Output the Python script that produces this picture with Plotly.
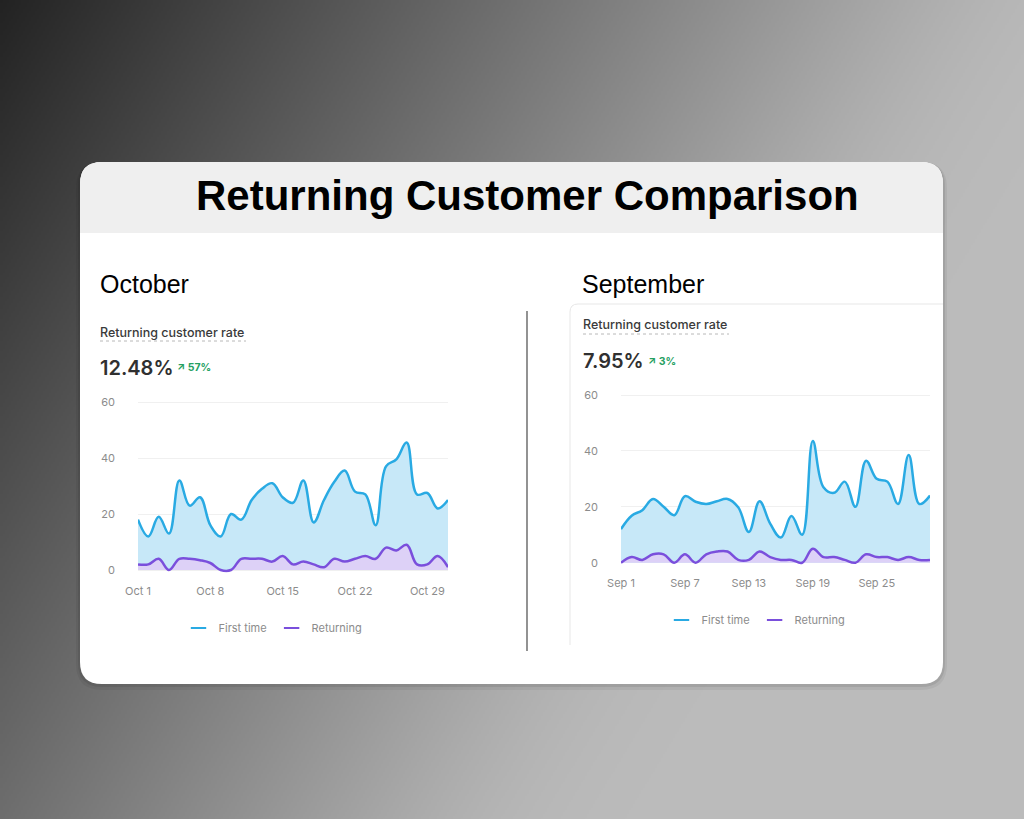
import base64
import struct
import zlib

import numpy as np
import plotly.graph_objects as go

# ---------------- data ----------------
oct_days = list(range(1, 32))
oct_first_time = [18, 12, 19, 13, 32, 23, 26, 16, 12, 20, 18, 25, 29, 31, 26, 24,
                  32, 17, 25, 31.5, 35.5, 28, 27, 16, 37, 39.5, 45.5, 27, 27.5, 22, 25]
oct_returning = [2, 2, 4, 0, 4, 4, 3.5, 2.5, 0, 0, 4, 4, 4, 3, 5, 2,
                 3, 2, 1, 4, 3, 4, 5, 4, 8, 7, 9, 2, 2, 5, 1]
oct_tick_vals = [1, 8, 15, 22, 29]
oct_tick_text = ["Oct 1", "Oct 8", "Oct 15", "Oct 22", "Oct 29"]

sep_days = list(range(1, 31))
sep_first_time = [12, 16.8, 18.8, 22.8, 20, 17, 23.8, 21.8, 21, 22, 22.8, 19.8, 11, 22, 14,
                  9, 16.7, 10, 43.5, 27, 25, 29, 20, 36.5, 30, 29, 21, 38.5, 21, 24]
sep_returning = [0, 2, 1, 3, 3, 0, 3, 0, 3, 4, 4, 1, 1, 4, 2,
                 1, 1, 0, 5, 2, 2, 1, 0, 3, 2, 2, 1, 2, 1, 1]
sep_tick_vals = [1, 7, 13, 19, 25]
sep_tick_text = ["Sep 1", "Sep 7", "Sep 13", "Sep 19", "Sep 25"]

y_tick_vals = [0, 20, 40, 60]

oct_rate, oct_change = "12.48%", "57%"
sep_rate, sep_change = "7.95%", "3%"

# ---------------- helpers ----------------
W, H = 1024, 819


def X(px):
    return px / W


def Y(py):
    return 1 - py / H


def png_gray(arr):
    arr = arr.astype(np.uint8)
    h, w = arr.shape
    raw = b"".join(b"\x00" + arr[i].tobytes() for i in range(h))

    def chunk(tag, data):
        c = struct.pack(">I", len(data)) + tag + data
        return c + struct.pack(">I", zlib.crc32(tag + data) & 0xFFFFFFFF)

    out = b"\x89PNG\r\n\x1a\n"
    out += chunk(b"IHDR", struct.pack(">IIBBBBB", w, h, 8, 0, 0, 0, 0))
    out += chunk(b"IDAT", zlib.compress(raw, 9))
    out += chunk(b"IEND", b"")
    return "data:image/png;base64," + base64.b64encode(out).decode()


gw, gh = 512, 410
gx = np.arange(gw)[None, :] / gw
gy = np.arange(gh)[:, None] / gh
lin = 35 + 155 * gx + 75 * gy
grad = 188 - np.logaddexp(0, (188 - lin) / 8) * 8  # soft clamp at ~188
bg_src = png_gray(np.clip(grad, 0, 255))


def rrect(x0, y0, x1, y1, r):
    return (f"M {X(x0 + r)},{Y(y0)} H {X(x1 - r)} Q {X(x1)},{Y(y0)} {X(x1)},{Y(y0 + r)} "
            f"V {Y(y1 - r)} Q {X(x1)},{Y(y1)} {X(x1 - r)},{Y(y1)} H {X(x0 + r)} "
            f"Q {X(x0)},{Y(y1)} {X(x0)},{Y(y1 - r)} V {Y(y0 + r)} Q {X(x0)},{Y(y0)} {X(x0 + r)},{Y(y0)} Z")


BLUE = "#29aae3"
BLUE_FILL = "#c7e8f8"
PURPLE = "#7a4fdc"
PURPLE_FILL = "#ddd1f7"
TICK = "#8c8c8c"

fig = go.Figure()


def add_panel(days, first, ret, xa, ya, legend):
    fig.add_trace(go.Scatter(x=days, y=first, mode="lines",
                             line=dict(color=BLUE, width=2.5, shape="spline", smoothing=1.1),
                             fill="tozeroy", fillcolor=BLUE_FILL, xaxis=xa, yaxis=ya, showlegend=False,
                             name="First time"))
    fig.add_trace(go.Scatter(x=days, y=ret, mode="lines",
                             line=dict(color=PURPLE, width=2.5, shape="spline", smoothing=1.1),
                             fill="tozeroy", fillcolor=PURPLE_FILL, xaxis=xa, yaxis=ya, showlegend=False,
                             name="Returning"))
    for nm, c in (("First time", BLUE), ("Returning", PURPLE)):
        fig.add_trace(go.Scatter(x=[None], y=[None], mode="markers", name=nm, xaxis=xa, yaxis=ya,
                                 marker=dict(symbol="line-ew", size=11, line=dict(width=2.2, color=c)),
                                 legend=legend, showlegend=True))


add_panel(oct_days, oct_first_time, oct_returning, "x", "y", "legend")
add_panel(sep_days, sep_first_time, sep_returning, "x2", "y2", "legend2")

axis_common = dict(showline=False, zeroline=False, ticks="", automargin=False,
                   tickfont=dict(family="Inter", size=11, color=TICK))

# October: x 138..448 px ; y 0 -> 570 px, 60 -> 402 px
oy = 2.8
fig.update_layout(
    xaxis=dict(domain=[X(138), X(448)], range=[1, 31], tickvals=oct_tick_vals, ticktext=oct_tick_text,
               showgrid=False, ticklabelstandoff=10, anchor="y", **axis_common),
    yaxis=dict(domain=[Y(570 + oy), Y(402 - oy)], range=[-1, 61], tickvals=y_tick_vals,
               showgrid=True, gridcolor="#f0f0f0", gridwidth=1, ticklabelstandoff=22, anchor="x", **axis_common),
)
# September: x 621..930 px ; y 0 -> 562.7, 60 -> 395
sy = 2.79
fig.update_layout(
    xaxis2=dict(domain=[X(621), X(930)], range=[1, 30], tickvals=sep_tick_vals, ticktext=sep_tick_text,
                showgrid=False, ticklabelstandoff=10, anchor="y2", **axis_common),
    yaxis2=dict(domain=[Y(562.7 + sy), Y(395 - sy)], range=[-1, 61], tickvals=y_tick_vals,
                showgrid=True, gridcolor="#f0f0f0", gridwidth=1, ticklabelstandoff=22, anchor="x2", **axis_common),
)

legend_common = dict(orientation="h", xanchor="center", yanchor="middle", bgcolor="rgba(0,0,0,0)",
                     font=dict(family="Inter", size=11, color=TICK), itemwidth=30, itemclick=False)
fig.update_layout(
    legend=dict(x=X(273), y=Y(628), **legend_common),
    legend2=dict(x=X(756), y=Y(620), **legend_common),
)

shapes = [
    # card shadow
    dict(type="path", path=rrect(76, 162, 947, 690, 26), fillcolor="rgba(0,0,0,0.05)", line=dict(width=0)),
    dict(type="path", path=rrect(78, 162, 945, 687, 24), fillcolor="rgba(0,0,0,0.08)", line=dict(width=0)),
    # card
    dict(type="path", path=rrect(80, 162, 943, 684, 22), fillcolor="white", line=dict(width=0)),
    # header band
    dict(type="path",
         path=(f"M {X(80)},{Y(233)} V {Y(184)} Q {X(80)},{Y(162)} {X(102)},{Y(162)} H {X(921)} "
               f"Q {X(943)},{Y(162)} {X(943)},{Y(184)} V {Y(233)} Z"),
         fillcolor="#efefef", line=dict(width=0)),
    # divider
    dict(type="line", x0=X(527), x1=X(527), y0=Y(311), y1=Y(651), line=dict(color="#4a4a4a", width=1.2)),
    # September screenshot edge
    dict(type="path", path=f"M {X(570)},{Y(645)} V {Y(312)} Q {X(570)},{Y(304)} {X(578)},{Y(304)} H {X(943)}",
         line=dict(color="#e7e7e7", width=1)),
    # dotted underlines
    dict(type="line", x0=X(100), x1=X(246), y0=Y(341), y1=Y(341), line=dict(color="#b8b8b8", width=1, dash="dot")),
    dict(type="line", x0=X(583), x1=X(729), y0=Y(334), y1=Y(334), line=dict(color="#b8b8b8", width=1, dash="dot")),
]
for s in shapes:
    s.update(xref="paper", yref="paper", layer="below")

annotations = [
    dict(text="<b>Returning Customer Comparison</b>", x=X(527), y=Y(195), xanchor="center", yanchor="middle",
         font=dict(family="Liberation Sans", size=42, color="black")),
    dict(text="October", x=X(98), y=Y(284), xanchor="left", yanchor="middle",
         font=dict(family="Liberation Sans", size=25, color="black")),
    dict(text="September", x=X(580), y=Y(284), xanchor="left", yanchor="middle",
         font=dict(family="Liberation Sans", size=25, color="black")),
    dict(text="Returning customer rate", x=X(98), y=Y(332), xanchor="left", yanchor="middle",
         font=dict(family="Inter", size=12.5, color="#3a3a3a", weight=500)),
    dict(text="Returning customer rate", x=X(581), y=Y(325), xanchor="left", yanchor="middle",
         font=dict(family="Inter", size=12.5, color="#3a3a3a", weight=500)),
    dict(text=oct_rate, x=X(98), y=Y(368), xanchor="left", yanchor="middle",
         font=dict(family="Inter", size=20, color="#303030", weight=600)),
    dict(text=sep_rate, x=X(581), y=Y(361), xanchor="left", yanchor="middle",
         font=dict(family="Inter", size=20, color="#303030", weight=600)),
    dict(text="↗ " + oct_change, x=X(175), y=Y(368), xanchor="left", yanchor="middle",
         font=dict(family="Inter", size=10.5, color="#25a062", weight=700)),
    dict(text="↗ " + sep_change, x=X(646), y=Y(361), xanchor="left", yanchor="middle",
         font=dict(family="Inter", size=10.5, color="#25a062", weight=700)),
]
for a in annotations:
    a.update(xref="paper", yref="paper", showarrow=False)

fig.update_layout(
    width=W, height=H, margin=dict(l=0, r=0, t=0, b=0, autoexpand=False),
    paper_bgcolor="#808080", plot_bgcolor="rgba(0,0,0,0)",
    images=[dict(source=bg_src, xref="paper", yref="paper", x=0, y=1, sizex=1, sizey=1,
                 sizing="stretch", layer="below", xanchor="left", yanchor="top")],
    shapes=shapes, annotations=annotations, hovermode=False,
)

fig.write_html("out.html", config={"displayModeBar": False},
               post_script="document.body.style.margin='0';document.body.style.overflow='hidden';")
